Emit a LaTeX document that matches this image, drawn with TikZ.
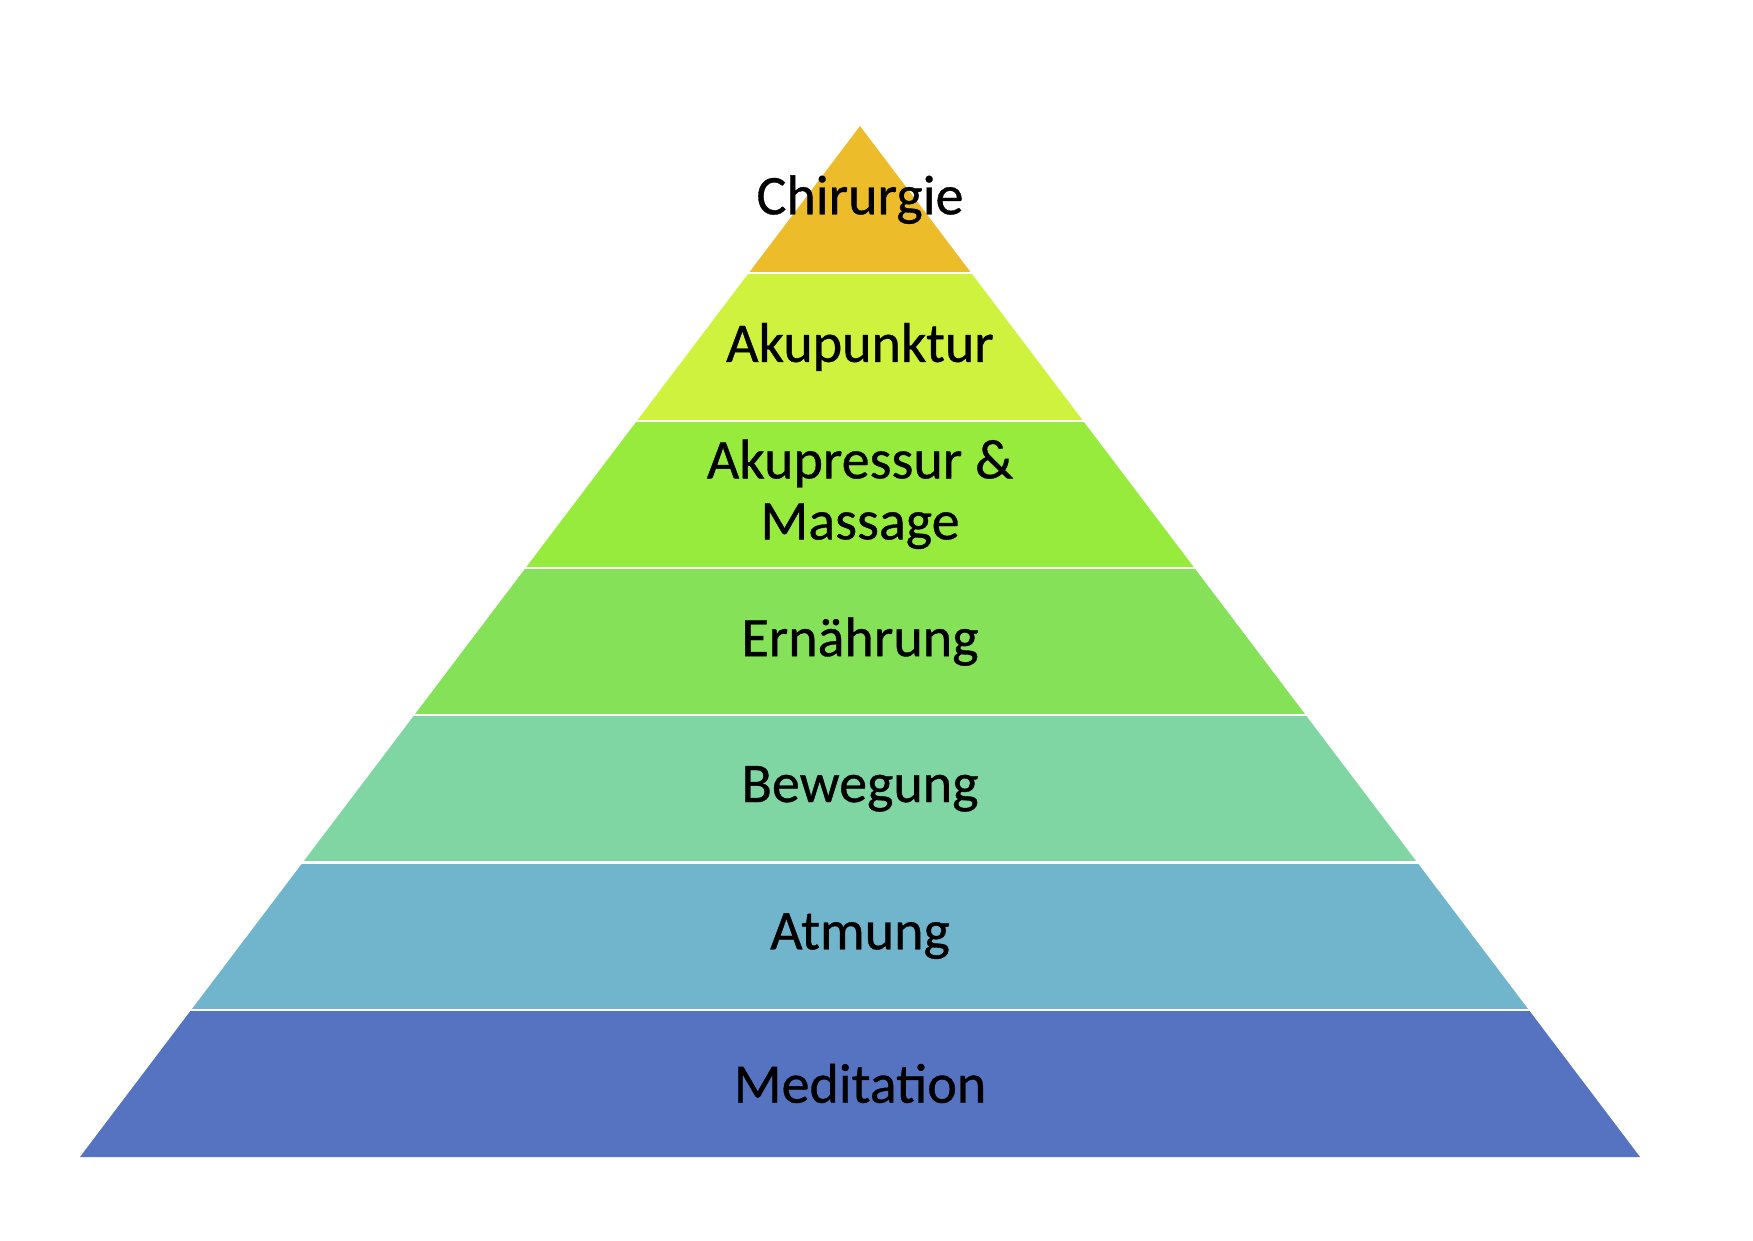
\documentclass[tikz,border=0pt]{standalone}
\usepackage{fontspec}
\setmainfont[FakeBold=0.6]{Carlito}
\definecolor{chirurgie}{HTML}{EDBC2B}
\definecolor{akupunktur}{HTML}{CEF23D}
\definecolor{akupressur}{HTML}{97EB3C}
\definecolor{ernaehrung}{HTML}{85E157}
\definecolor{bewegung}{HTML}{80D6A2}
\definecolor{atmung}{HTML}{71B5CC}
\definecolor{meditation}{HTML}{5573C0}

\begin{document}
\begin{tikzpicture}[x=1pt, y=-1pt,
  level node/.style={font=\fontsize{56}{61}\selectfont, align=center, inner sep=0pt},
  gap line/.style={draw=white, line width=2.2pt}]
  \useasboundingbox (0,0) rectangle (1753,1240);
  % the seven levels, top to bottom
  \foreach \i/\col in {0/chirurgie, 1/akupunktur, 2/akupressur, 3/ernaehrung,
      4/bewegung, 5/atmung, 6/meditation} {
    \pgfmathsetmacro\ya{126+147.3*\i}
    \pgfmathsetmacro\yb{126+147.3*(\i+1)}
    \pgfmathsetmacro\wa{111.45*\i}
    \pgfmathsetmacro\wb{111.45*(\i+1)}
    \fill[\col] (860-\wa,\ya) -- (860+\wa,\ya) -- (860+\wb,\yb) -- (860-\wb,\yb) -- cycle;
    \coordinate (mid\i) at (860,{(\ya+\yb)/2});
  }
  % white gaps between the levels
  \foreach \i in {1,...,6} {
    \pgfmathsetmacro\ya{126+147.3*\i}
    \pgfmathsetmacro\wa{111.45*\i}
    \draw[gap line] (860-\wa-2,\ya) -- (860+\wa+2,\ya);
  }
  \node[level node] (chir) at (mid0) {Chirurgie};
  \node[level node] (akup) at (mid1) {Akupunktur};
  \node[level node] (akpr) at (mid2) {Akupressur \&\\Massage};
  \node[level node] (ernh) at (mid3) {Ernährung};
  \node[level node] (bewg) at (mid4) {Bewegung};
  \node[level node] (atmg) at (mid5) {Atmung};
  \node[level node] (medt) at (mid6) {Meditation};
\end{tikzpicture}
\end{document}
